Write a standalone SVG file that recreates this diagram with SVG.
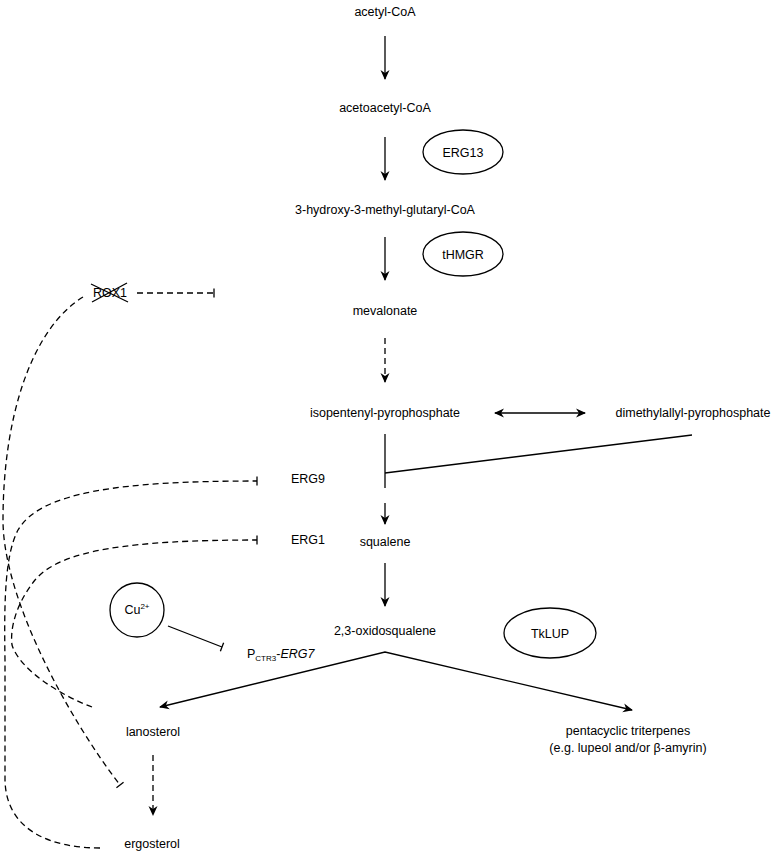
<svg xmlns="http://www.w3.org/2000/svg" width="777" height="853" viewBox="0 0 777 853">
<defs>
<marker id="arr" viewBox="0 0 10 10" refX="9" refY="5" markerWidth="10" markerHeight="10" markerUnits="userSpaceOnUse" orient="auto-start-reverse">
<path d="M0,0.5 L10,5 L0,9.5 L3,5 Z" fill="#000"/>
</marker>
<marker id="bar" viewBox="-2 -5 4 10" refX="0" refY="0" markerWidth="4" markerHeight="10" markerUnits="userSpaceOnUse" orient="auto">
<path d="M0,-4.5 L0,4.5" stroke="#000" stroke-width="1.3"/>
</marker>
</defs>
<style>
text{font-family:"Liberation Sans",Arial,sans-serif;font-size:12.5px;fill:#000;}
.c{text-anchor:middle;}
.s{fill:none;stroke:#000;stroke-width:1.3;}
.d{fill:none;stroke:#000;stroke-width:1.3;stroke-dasharray:6 4;}
.n{fill:#fff;stroke:#000;stroke-width:1.3;}
</style>
<rect width="777" height="853" fill="#fff"/>

<g id="connectors">
<line class="s" x1="385" y1="36" x2="385" y2="79" marker-end="url(#arr)"/>
<line class="s" x1="385" y1="137" x2="385" y2="180" marker-end="url(#arr)"/>
<line class="s" x1="385" y1="237" x2="385" y2="280" marker-end="url(#arr)"/>
<line class="d" x1="385" y1="338" x2="385" y2="382" marker-end="url(#arr)"/>
<line class="s" x1="495" y1="413" x2="585" y2="413" marker-start="url(#arr)" marker-end="url(#arr)"/>
<line class="s" x1="385" y1="434" x2="385" y2="488"/>
<line class="s" x1="385" y1="473" x2="692" y2="435"/>
<line class="s" x1="385" y1="503" x2="385" y2="524" marker-end="url(#arr)"/>
<line class="s" x1="385" y1="563" x2="385" y2="606" marker-end="url(#arr)"/>
<polyline class="s" points="160,707 385,652 632,710" marker-start="url(#arr)" marker-end="url(#arr)"/>
<line class="d" x1="153" y1="755" x2="153" y2="815" marker-end="url(#arr)"/>
<line class="d" x1="137" y1="293" x2="214" y2="293" marker-end="url(#bar)"/>
<line class="s" x1="168" y1="626" x2="222" y2="647" marker-end="url(#bar)"/>
<path class="d" d="M83,297 C30,330 3,420 3,520 C3,600 70,720 120,785" marker-end="url(#bar)"/>
<path class="d" d="M100,848 C50,848 6,830 5,780 L5,660 C4,600 5,555 18,530 C40,492 120,481 257,481" marker-end="url(#bar)"/>
<path class="d" d="M92,707 C60,695 20,670 12,645 C10,630 15,605 35,580 C60,550 130,540 257,540" marker-end="url(#bar)"/>
</g>

<g id="acetyl-CoA"><text class="c" x="385" y="16">acetyl-CoA</text></g>
<g id="acetoacetyl-CoA"><text class="c" x="385" y="112">acetoacetyl-CoA</text></g>
<g id="HMG-CoA"><text class="c" x="385" y="214">3-hydroxy-3-methyl-glutaryl-CoA</text></g>
<g id="mevalonate"><text class="c" x="385" y="315">mevalonate</text></g>
<g id="IPP"><text class="c" x="385" y="417">isopentenyl-pyrophosphate</text></g>
<g id="DMAPP"><text class="c" x="693" y="417">dimethylallyl-pyrophosphate</text></g>
<g id="squalene"><text class="c" x="385" y="546">squalene</text></g>
<g id="oxidosqualene"><text class="c" x="385" y="635">2,3-oxidosqualene</text></g>
<g id="lanosterol"><text class="c" x="153" y="736">lanosterol</text></g>
<g id="ergosterol"><text class="c" x="152" y="848">ergosterol</text></g>
<g id="triterpenes"><text class="c" x="628" y="735">pentacyclic triterpenes</text><text class="c" x="628" y="752">(e.g. lupeol and/or β-amyrin)</text></g>

<g id="ERG13"><ellipse class="n" cx="463" cy="152" rx="40" ry="22"/><text class="c" x="463" y="157">ERG13</text></g>
<g id="tHMGR"><ellipse class="n" cx="463" cy="254" rx="40" ry="22"/><text class="c" x="463" y="259">tHMGR</text></g>
<g id="TkLUP"><ellipse class="n" cx="550" cy="633" rx="46" ry="25"/><text class="c" x="550" y="638">TkLUP</text></g>
<g id="Cu"><circle class="n" cx="137" cy="610" r="27"/><text class="c" x="137" y="614">Cu<tspan font-size="8" dy="-5">2+</tspan></text></g>
<g id="ROX1"><text class="c" x="110" y="297">ROX1</text><line class="s" x1="91" y1="284" x2="128" y2="302"/><line class="s" x1="92" y1="302" x2="127" y2="283"/></g>
<g id="ERG9"><text x="291" y="483">ERG9</text></g>
<g id="ERG1"><text x="291" y="544">ERG1</text></g>
<g id="PCTR3-ERG7"><text x="247" y="658">P<tspan font-size="8" dy="3">CTR3</tspan><tspan dy="-3">-</tspan><tspan font-style="italic">ERG7</tspan></text></g>
</svg>
